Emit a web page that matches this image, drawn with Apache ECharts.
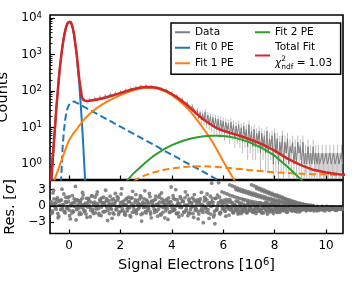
<!DOCTYPE html>
<html><head><meta charset="utf-8">
<script src="https://cdn.jsdelivr.net/npm/echarts@6/dist/echarts.min.js"></script>
<style>html,body{margin:0;padding:0;background:#fff}#c{width:355px;height:289px}</style>
</head><body><div id="c"></div>
<script>
// ---------- fit curves (x grid in 10^6 signal electrons) ----------
const fitX = [-0.75,-0.7,-0.6,-0.5,-0.4,-0.35,-0.3,-0.25,-0.2,-0.15,-0.1,-0.05,0,0.05,0.1,0.15,0.2,0.3,0.4,0.5,0.55,0.6,0.65,0.7,0.8,1,1.25,1.5,1.75,2,2.25,2.5,2.75,3,3.25,3.5,3.75,4,4.25,4.5,4.75,5,5.25,5.5,5.75,6,6.25,6.5,6.75,7,7.5,8,8.5,9,9.5,10,10.5,10.75];
const fit0PE = [0.035,0.16,2.7,29,205,468,960,1770,2960,4440,6000,7310,8030,7900,6800,5100,3330,943,154,14.6,3.6,0.8,0.15,0.025,null,null,null,null,null,null,null,null,null,null,null,null,null,null,null,null,null,null,null,null,null,null,null,null,null,null,null,null,null,null,null,null,null,null];
const fit0Tail = [null,null,null,null,0.08,0.12,0.45,2.8,8,16,27,35,42,46,49,51,52,47.6,43.6,39.9,38.2,36.5,34.9,33.4,30.6,25.6,20.6,16.5,13.2,10.6,8.5,6.8,5.45,4.37,3.5,2.81,2.25,1.81,1.45,1.16,0.93,0.75,0.6,0.48,0.385,0.31,0.245,0.2,null,null,null,null,null,null,null,null,null,null];
const fit1PE = [0.16,0.2,0.32,0.5,0.78,0.98,1.2,1.55,1.9,2.4,3.0,3.7,4.5,5.1,5.8,6.6,7.4,9.0,11.3,14,15.5,17,18.5,20,23.5,31,41,52,64,77,91,105,116,123,122,113,97,77,57,40,26,15.5,9,5,2.5,1.2,0.6,0.3,0.12,0.05,null,null,null,null,null,null,null,null];
const fit1Tail = [null,null,null,null,null,null,null,null,null,null,null,null,null,null,null,null,null,null,null,null,null,null,null,null,null,null,null,null,null,null,0.2,0.33,0.43,0.51,0.58,0.65,0.71,0.76,0.8,0.84,0.86,0.87,0.87,0.86,0.84,0.81,0.78,0.75,0.72,0.69,0.64,0.6,0.57,0.55,0.53,0.52,0.5,0.5];
const fit2PE = [null,null,null,null,null,null,null,null,null,null,null,null,null,null,null,null,null,null,null,null,null,null,null,null,null,null,null,null,null,0.2,0.35,0.55,0.8,1.15,1.6,2.1,2.7,3.3,3.9,4.5,5.0,5.45,5.8,6.0,6.0,5.9,5.6,5.15,4.6,4.0,2.8,1.7,0.85,0.4,0.17,0.07,0.03,null];
const fitTotal = [0.2,0.36,3.0,29.5,206,469,962,1774,2970,4458,6030,7349,8077,7951,6855,5158,3389,1000,209,68.5,57.3,54.3,53.6,53.4,54.1,56.6,61.6,68.5,77.2,87.8,100,112.7,122.7,129,127.7,118.6,102.7,82.9,63.2,46.5,32.8,22.6,16.3,12.3,9.7,8.2,7.2,6.4,5.6,4.87,3.52,2.35,1.42,0.95,0.7,0.59,0.53,0.51];

// ---------- measured histogram ----------
const dataAStart = -0.7, dataAStep = 0.1;
const dataA = [1,3.2,28,215,940,3010,5980,8120,6810,3420,985,212,68,57,52,59,55,64,59,69,63,75,69,81,76,88,82,97,90,108,99,119,112,128,121,139,128,140,127,137,121,130,114,121,102,108,88,90,72,75,58,61,46,48,35,38,27];
const errA  = [1,1.8,5.3,14.7,31,55,77,90,83,58,31,14.6,8.2,7.5,7.2,7.7,7.4,8,7.7,8.3,7.9,8.7,8.3,9,8.7,9.4,9.1,9.8,9.5,10.4,9.9,10.9,10.6,11.3,11,11.8,11.3,11.8,11.3,11.7,11,11.4,10.7,11,10.1,10.4,9.4,9.5,8.5,8.7,7.6,7.8,6.8,6.9,5.9,6.2,5.2];
const dataBStart = 5.0, dataBStep = 0.05;
const dataB = [29,18,26,16,24,15,27,13,22,12, 20,11,19,10,18,9,17,8,16,9, 15,7,14,8,13,6,14,7,12,5, 11,6,12,5,10,4,11,5,9,3, 12,4,8,3,9,3,7,4,8,2, 7,3,6,2,8,2,5,3,6,1, 7,2,5,1,4,2,6,1,4,2, 5,1,3,2,4,1,3,1,4,2, 3,1,4,1,2,1,3,1,2,1, 3,1,2,1,2,1,1,2,1,1, 2,1,1,2,1,1,2,1,1,2, 1,1,2,1];
const errB  = [5.4,4.2,5.1,4,4.9,3.9,5.2,3.6,4.7,3.5, 4.5,3.3,4.4,3.2,4.2,3,4.1,2.8,4,3, 3.9,2.6,3.7,2.8,3.6,2.4,3.7,2.6,3.5,2.2, 3.3,2.4,3.5,2.2,3.2,2,3.3,2.2,3,1.7, 3.5,2,2.8,1.7,3,1.7,2.6,2,2.8,1.4, 2.6,1.7,2.4,1.4,2.8,1.4,2.2,1.7,2.4,1, 2.6,1.4,2.2,1,2,1.4,2.4,1,2,1.4, 2.2,1,1.7,1.4,2,1,1.7,1,2,1.4, 1.7,1,2,1,1.4,1,1.7,1,1.4,1, 1.7,1,1.4,1,1.4,1,1,1.4,1,1, 1.4,1,1,1.4,1,1,1.4,1,1,1.4, 1,1,1.4,1];

// ---------- residuals [sigma] ----------
const resStep = 0.05;
const resAStart = -0.7;
const resA = [0.8,-1.2,2.9,0.3,-0.6,1.5,-1.9,0.1,1.1,-0.4,2.2,-1.3,0.6,-0.2,1.7,-2.4,0.4,-0.9,1.3,3.6,
-0.7,0.2,-1.6,1.0,-0.3,2.0,-1.1,0.5,-2.1,1.4,0.0,-0.8,1.9,-1.4,0.7,-0.1,2.6,-0.5,1.2,-1.8,
0.3,1.6,-1.0,0.9,-2.7,0.1,1.8,-0.6,0.4,-1.5,2.3,-0.2,1.1,-1.2,0.6,3.2,-0.9,0.2,-1.7,1.4,
-0.4,0.8,-2.0,1.5,0.0,-1.1,2.1,-0.7,0.5,1.3,-1.6,0.2,-0.3,2.8,-1.3,0.9,-0.5,1.7,-2.2,0.4,
1.0,-0.8,0.3,-1.9,1.6,-0.1,2.4,-1.2,0.6,-0.4,1.2,-2.5,0.7,0.1,-1.0,1.9,-0.6,3.0,-1.4,0.5,
-0.2,1.4,-1.7,0.8,0.2,-0.9,2.0,-1.3,0.6,-0.3,1.5,-2.1,0.9,-0.6,1.1,-1.5,0.3,2.5,-0.8,0.0,
1.3,-1.1,0.5,-2.3,1.8,4.2,0.7,-1.6,1.4,-0.7,0.2,1.6,-1.2,0.4,-0.5,-0.5,-1.9,0.9,-0.2,1.2,
-0.8,0.4,-1.3,-0.2,0.9,-1.0,-0.5,0.3,-1.4,-0.7,1.1,-0.3,-1.1,0.2,-0.9,-0.4,0.6,-1.2,-0.6,0.1,
-1.0,-0.3,0.5,-0.8,-1.3,0.0,-0.5,0.7,-1.1,-0.2,-0.7,0.4,-0.9,-1.4,0.1,-0.4,-0.8,0.3,-1.2,-0.6,
-0.2,-0.9,0.2,-0.5,-1.1,-0.3,-0.7,0.1,-0.8,-0.4,-1.0,-0.2,-0.6,0.0,-0.9,-0.3,-0.5,-0.7,-0.1,-0.4,
-0.6,-0.3,-0.8,-0.5,-0.2,-0.7,-0.4,-0.9,-0.3,-0.6,-0.5,-0.1,-0.8,-0.4,-0.6,-0.3,-0.7,-0.5,-0.2,-0.6,-0.4,-0.8,-0.3,-0.5,-0.6,-0.2,-0.5];
const resBStart = -0.675;
const resB = [-1.4,2.4,0.5,-0.3,1.2,-2.2,0.9,-0.7,3.1,0.2,-1.0,1.6,-0.5,0.8,-1.8,0.0,1.9,-1.1,0.6,-2.6,
1.1,-0.4,0.7,-1.5,2.5,0.3,-0.9,1.4,-0.2,0.9,-2.0,1.8,-0.6,0.4,-1.3,2.1,0.1,-1.7,0.8,1.5,
-1.1,0.6,2.9,-0.3,1.0,-1.4,0.2,-2.3,1.3,0.5,-0.7,1.7,-1.6,0.0,2.2,-0.5,0.9,-1.2,0.3,-0.9,
1.6,-1.8,0.4,2.7,-0.6,1.1,-1.4,0.2,-0.2,1.9,-2.8,0.7,1.3,-1.0,0.5,-0.3,2.3,-1.5,0.8,-0.1,
-1.2,1.8,0.1,-0.6,2.0,-1.7,0.6,1.0,-2.2,0.3,-0.5,1.5,-1.1,3.5,0.2,-0.8,1.2,-1.4,0.4,-2.0,
1.7,-0.3,0.9,-1.2,2.6,0.0,-1.8,1.3,-0.7,0.5,-1.4,2.1,-0.4,0.8,-2.4,1.0,-0.9,0.3,-3.1,1.6,
-0.5,2.2,-1.3,0.6,-0.1,1.4,-2.0,-3.3,-0.8,2.0,4.3,-1.5,0.8,-0.6,1.0,-1.0,0.5,-0.3,-1.7,0.9,
-0.5,-1.2,0.2,-0.7,-0.1,-1.5,0.6,-0.9,-0.3,-1.1,0.0,-0.6,-1.3,0.4,-0.8,-0.2,-1.0,0.3,-0.5,-1.4,
-0.4,0.2,-0.9,-0.6,-1.2,0.3,-0.3,-0.8,-1.5,0.0,-0.5,-1.0,0.5,-0.7,-0.2,-1.1,-0.4,0.1,-0.9,-0.6,
-0.8,-0.1,-0.5,-1.2,-0.3,0.1,-0.7,-0.9,-0.2,-0.6,-0.4,-1.1,-0.1,-0.5,-0.8,-0.3,-0.6,-0.2,-0.9,-0.4,
-0.3,-0.7,-0.5,-0.1,-0.9,-0.4,-0.6,-0.2,-0.8,-0.5,-0.3,-0.7,-0.4,-0.6,-0.1,-0.5,-0.8,-0.3,-0.6,-0.4,-0.2,-0.7,-0.5,-0.3,-0.6,-0.4,-0.7];
const resCStart = -0.6875;
const resC = [0.4,-0.9,1.3,-0.2,0.7,-1.4,0.1,1.0,-0.6,0.3,-1.1,0.8,-0.4,1.5,-0.8,0.2,-1.3,0.6,-0.1,1.1,
-0.5,0.9,-1.2,0.3,1.4,-0.7,0.0,-1.5,0.5,1.2,-0.3,0.7,-1.0,0.2,1.6,-0.6,0.4,-1.4,1.0,-0.2,
0.6,-1.1,0.1,1.3,-0.8,0.5,-0.4,1.1,-1.3,0.2,0.9,-0.7,1.5,-0.1,-1.0,0.7,0.3,-1.6,1.2,-0.5,
0.8,-0.3,1.4,-1.2,0.0,0.6,-0.9,1.0,-0.5,0.3,1.6,-1.4,0.4,-0.2,1.1,-0.8,0.5,-1.1,0.9,0.1,
-0.6,1.2,-1.0,0.3,0.7,-1.5,1.3,-0.3,0.2,-0.9,1.0,0.5,-1.2,0.8,-0.4,1.4,-0.7,0.0,1.1,-1.3,
0.4,-0.2,0.9,-1.1,1.5,-0.6,0.2,1.0,-1.4,0.6,-0.1,1.2,-0.8,0.3,-1.0,0.7,1.3,-0.5,-1.2,0.9,
-0.3,1.1,-0.7,0.4,-1.5,0.8,0.1,-1.0,1.4,-0.4,0.6,-1.3,1.0,-0.2,0.5,-0.9,1.2,0.0,-0.6,0.7,
-0.4,0.6,-1.0,0.2,-0.7,0.9,-1.3,-0.1,0.5,-0.9,0.3,-0.5,-1.2,0.7,-0.3,0.1,-0.8,0.4,-1.1,-0.2,
0.3,-0.6,-1.0,0.5,-0.4,-1.3,0.1,-0.7,0.6,-0.2,-1.1,0.2,-0.5,-0.9,0.4,-0.3,-1.2,0.0,-0.6,-0.8,
-0.4,0.1,-0.7,-1.0,-0.2,0.2,-0.6,-0.9,-0.3,0.0,-0.8,-0.5,-0.1,-1.1,-0.4,-0.7,0.1,-0.5,-0.3,-0.8,
-0.5,-0.2,-0.7,-0.4,-0.6,-0.3,-0.8,-0.1,-0.5,-0.7,-0.4,-0.2,-0.6,-0.9,-0.3,-0.5,-0.4,-0.7,-0.2,-0.6,-0.5,-0.3,-0.8,-0.4,-0.6,-0.5,-0.3];
// low-count bins in the tail form streaks
const streakStep = 0.1;
const streakStarts = [5.95, 6.25, 6.5, 7.1, 7.3];
const streak0 = [2.6,2.4,2.2,2.0,1.83,1.67,1.52,1.38,1.25,1.12,1.0,0.89,0.78,0.68,0.59,0.5,0.42,0.35,0.28,0.22,0.16,0.11,0.07,0.03];
const streak1 = [3.9,3.7,3.5,3.3,3.1,2.95,2.8,2.65,2.5,2.35,2.2,2.05,1.9,1.75,1.6,1.45,1.33,1.2,1.07,0.96,0.86,0.76,0.67,0.58,0.5,0.42,0.34,0.27,0.2,0.13,0.07];
const streak2 = [3.0,2.85,2.7,2.55,2.4,2.25,2.1,1.95,1.8,1.66,1.52,1.39,1.26,1.14,1.02,0.91,0.81,0.71,0.62,0.53,0.45,0.38,0.31,0.25,0.19,0.14,0.09,0.05];
const streak3 = [3.9,3.7,3.5,3.3,3.1,2.9,2.7,2.5,2.3,2.1,2.0,1.8,1.6,1.4,1.22,1.05,0.88,0.72,0.58,0.45,0.34,0.24,0.15,0.08,0.03];
const streak4 = [3.2,3.0,2.8,2.6,2.42,2.24,2.06,1.88,1.7,1.53,1.37,1.21,1.06,0.92,0.78,0.65,0.53,0.42,0.32,0.23,0.15,0.08,0.03];

// ---------- axes ----------
const xTicks = [0, 2, 4, 6, 8, 10];
const resTicks = [-3, 0, 3];
const minorLogTicks = [0.4,0.5,0.6,0.7,0.8,0.9,2,3,4,5,6,7,8,9,20,30,40,50,60,70,80,90,200,300,400,500,600,700,800,900,2000,3000,4000,5000,6000,7000,8000,9000];

function pairs(xs, ys) { return xs.map((x, i) => [x, ys[i]]); }
function stepPairs(start, step, ys) { return ys.map((y, i) => [+(start + i * step).toFixed(4), y]); }

const dataPts = stepPairs(dataAStart, dataAStep, dataA).concat(stepPairs(dataBStart, dataBStep, dataB));
const errVals = errA.concat(errB);
const errPts = dataPts.map((p, i) => [p[0], Math.max(p[1] - errVals[i], 0.2), p[1] + errVals[i]]);

const FONT = 'DejaVu Sans';
const C = { gray: '#7f7f7f', blue: '#1f77b4', orange: '#ff7f0e', green: '#2ca02c', red: '#d62728' };
const tickStyle = { color: '#000', width: 1.2 };
const noLine = { show: false, onZero: false };

function lineSeries(name, ys, color, width, dashed, z) {
  return {
    name: name, type: 'line', xAxisIndex: 0, yAxisIndex: 0,
    data: pairs(fitX, ys), showSymbol: false, symbol: 'none', connectNulls: false,
    color: color, clip: true, z: z,
    lineStyle: { color: color, width: width, type: dashed ? [7, 3.5] : 'solid' },
    itemStyle: { color: color }, emphasis: { disabled: true }, silent: true
  };
}
function resSeries(name, pts) {
  return {
    name: name, type: 'scatter', xAxisIndex: 1, yAxisIndex: 2, data: pts,
    symbolSize: 3.8, clip: true, silent: true,
    itemStyle: { color: '#737373', opacity: 0.85 }
  };
}

const chart = echarts.init(document.getElementById('c'), null, { renderer: 'canvas' });
const option = {
  animation: false,
  textStyle: { fontFamily: FONT },
  grid: [
    { left: 50, top: 15, width: 293, height: 164.5, show: true, borderColor: '#000', borderWidth: 1.6,
      backgroundColor: 'transparent', containLabel: false, outerBoundsMode: 'none' },
    { left: 50, top: 180.5, width: 293, height: 53, show: true, borderColor: '#000', borderWidth: 1.6,
      backgroundColor: 'transparent', containLabel: false, outerBoundsMode: 'none' }
  ],
  xAxis: [
    { type: 'value', gridIndex: 0, min: -0.74, max: 10.66, axisLine: noLine, splitLine: { show: false },
      axisTick: { inside: true, length: 4, lineStyle: tickStyle, customValues: xTicks },
      axisLabel: { show: false, customValues: xTicks } },
    { type: 'value', gridIndex: 1, min: -0.74, max: 10.66, axisLine: noLine, splitLine: { show: false },
      axisTick: { inside: true, length: 4, lineStyle: tickStyle, customValues: xTicks },
      axisLabel: { customValues: xTicks, color: '#000', fontSize: 12, fontFamily: FONT, margin: 6 },
      name: 'Signal Electrons [10{s|6}]', nameLocation: 'middle', nameGap: 24,
      nameTextStyle: { color: '#000', fontSize: 14.5, fontFamily: FONT,
        rich: { s: { fontSize: 10, fontFamily: FONT, color: '#000', verticalAlign: 'top', lineHeight: 8 } } } }
  ],
  yAxis: [
    { type: 'log', logBase: 10, gridIndex: 0, position: 'left', min: 0.38, max: 12000,
      axisLine: noLine, splitLine: { show: false }, minorTick: { show: false },
      axisTick: { inside: true, length: 5, lineStyle: tickStyle },
      axisLabel: { color: '#000', margin: 8, showMinLabel: false, showMaxLabel: false,
        formatter: function (v) { return '{b|10}{s|' + Math.round(Math.log10(v)) + '}'; },
        rich: { b: { fontSize: 12, fontFamily: FONT, color: '#000', lineHeight: 14 },
                s: { fontSize: 8.5, fontFamily: FONT, color: '#000', verticalAlign: 'top', lineHeight: 6 } } },
      name: 'Counts', nameLocation: 'middle', nameRotate: 90, nameGap: 33,
      nameTextStyle: { color: '#000', fontSize: 14.5, fontFamily: FONT } },
    { type: 'log', logBase: 10, gridIndex: 0, position: 'left', min: 0.38, max: 12000,
      axisLine: noLine, splitLine: { show: false },
      axisTick: { inside: true, length: 2.5, lineStyle: { color: '#000', width: 0.9 }, customValues: minorLogTicks },
      axisLabel: { show: false, customValues: minorLogTicks } },
    { type: 'value', gridIndex: 1, position: 'left', min: -5.1, max: 4.7,
      axisLine: noLine, splitLine: { show: false },
      axisTick: { inside: true, length: 4, lineStyle: tickStyle, customValues: resTicks },
      axisLabel: { customValues: resTicks, color: '#000', fontSize: 12, fontFamily: FONT, margin: 4,
        formatter: function (v) { return v < 0 ? '\u2212' + Math.abs(v) : String(v); } },
      name: 'Res. [{i|\u03c3}]', nameLocation: 'middle', nameRotate: 90, nameGap: 29,
      nameTextStyle: { color: '#000', fontSize: 14.5, fontFamily: FONT,
        rich: { i: { fontSize: 14.5, fontFamily: FONT, fontStyle: 'italic', color: '#000' } } } }
  ],
  legend: [
    { data: ['Data', 'Fit 0 PE', 'Fit 1 PE'], orient: 'vertical', left: 171, top: 23,
      padding: [1.5, 107, 3.3, 4], itemWidth: 15, itemHeight: 2, itemGap: 0, icon: 'rect',
      borderColor: '#000', borderWidth: 1.5, backgroundColor: '#fff', selectedMode: false,
      textStyle: { fontFamily: FONT, fontSize: 10.5, color: '#000', lineHeight: 15.5 } },
    { data: ['Fit 2 PE', 'Total Fit'], orient: 'vertical', left: 255, top: 24.5,
      padding: 0, itemWidth: 15, itemHeight: 2, itemGap: 0, icon: 'rect', selectedMode: false,
      formatter: function (n) { return n === 'Total Fit' ? 'Total Fit\n{x|\u03c7}{p|2}{d|ndf}{e| = 1.03}' : n; },
      textStyle: { fontFamily: FONT, fontSize: 10.5, color: '#000', lineHeight: 15.5,
        rich: {
          x: { fontFamily: FONT, fontSize: 10.5, fontStyle: 'italic', color: '#000', lineHeight: 15.5 },
          p: { fontFamily: FONT, fontSize: 7.5, color: '#000', verticalAlign: 'top', lineHeight: 8, width: 0 },
          d: { fontFamily: FONT, fontSize: 7.5, color: '#000', verticalAlign: 'bottom', lineHeight: 8 },
          e: { fontFamily: FONT, fontSize: 10.5, color: '#000', lineHeight: 15.5 }
        } } }
  ],
  series: [
    { name: 'Data', type: 'line', xAxisIndex: 0, yAxisIndex: 0, data: dataPts, showSymbol: false, symbol: 'none',
      color: C.gray, clip: true, z: 2, silent: true,
      lineStyle: { color: C.gray, width: 1 }, itemStyle: { color: C.gray } },
    { name: 'Data errors', type: 'custom', xAxisIndex: 0, yAxisIndex: 0, data: errPts, clip: true, z: 1, silent: true,
      encode: { x: 0, y: [1, 2] },
      renderItem: function (params, api) {
        const a = api.coord([api.value(0), api.value(1)]);
        const b = api.coord([api.value(0), api.value(2)]);
        return { type: 'line', shape: { x1: a[0], y1: a[1], x2: b[0], y2: b[1] },
                 style: { stroke: 'rgba(127,127,127,0.5)', lineWidth: 1 } };
      } },
    lineSeries('Fit 0 PE', fit0PE, C.blue, 2, false, 3),
    lineSeries('Fit 0 PE tail', fit0Tail, C.blue, 2, true, 3),
    lineSeries('Fit 1 PE', fit1PE, C.orange, 2, false, 3),
    lineSeries('Fit 1 PE tail', fit1Tail, C.orange, 2, true, 3),
    lineSeries('Fit 2 PE', fit2PE, C.green, 2, false, 3),
    lineSeries('Total Fit', fitTotal, C.red, 2.5, false, 4),
    Object.assign(resSeries('Res A', stepPairs(resAStart, resStep, resA)), {
      markLine: { silent: true, symbol: 'none', label: { show: false }, animation: false,
        lineStyle: { color: '#000', width: 1.5, type: 'solid' }, data: [{ yAxis: 0 }] } }),
    resSeries('Res B', stepPairs(resBStart, resStep, resB)),
    resSeries('Res C', stepPairs(resCStart, resStep, resC)),
    resSeries('Streak 0', stepPairs(streakStarts[0], streakStep, streak0)),
    resSeries('Streak 1', stepPairs(streakStarts[1], streakStep, streak1)),
    resSeries('Streak 2', stepPairs(streakStarts[2], streakStep, streak2)),
    resSeries('Streak 3', stepPairs(streakStarts[3], streakStep, streak3)),
    resSeries('Streak 4', stepPairs(streakStarts[4], streakStep, streak4))
  ]
};
chart.setOption(option);
</script></body></html>
